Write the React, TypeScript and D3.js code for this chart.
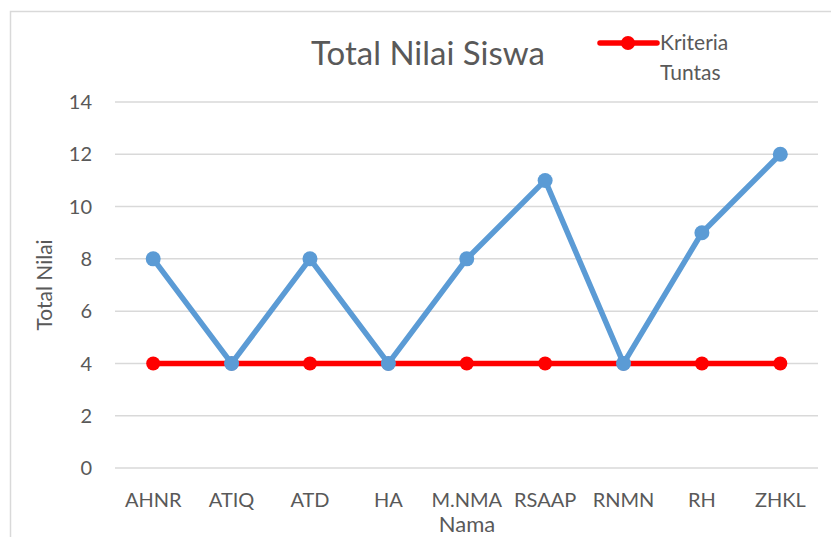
import { useEffect, useRef } from 'react';
import * as d3 from 'd3';

// data
const names = ['AHNR', 'ATIQ', 'ATD', 'HA', 'M.NMA', 'RSAAP', 'RNMN', 'RH', 'ZHKL'];
const totalNilai = [8, 4, 8, 4, 8, 11, 4, 9, 12];
const kriteriaTuntas = [4, 4, 4, 4, 4, 4, 4, 4, 4];
const yTicks = [0, 2, 4, 6, 8, 10, 12, 14];

const W = 831;
const H = 537;
const FONT = 'Lato, "Open Sans", sans-serif';
const TEXT = '#595959';
const GRID = '#D9D9D9';
const BLUE = '#5B9BD5';
const RED = '#FF0000';

function App() {
  const svgRef = useRef<SVGSVGElement | null>(null);

  useEffect(() => {
    const svg = d3.select(svgRef.current);
    svg.selectAll('*').remove();

    // cut-off line of the page text above the chart (only descenders show)
    const top = svg.append('text')
      .attr('y', -5)
      .attr('font-family', '"Liberation Serif", serif')
      .attr('font-size', 24)
      .attr('fill', '#000');
    [['gg', 8], ['p', 126], ['p', 210], ['p', 295], ['g', 335]].forEach(([t, x]) => {
      top.append('tspan').attr('x', x as number).text(t as string);
    });

    // chart frame
    svg.append('rect')
      .attr('x', 10.5).attr('y', 11.5)
      .attr('width', W + 20).attr('height', H + 20)
      .attr('fill', '#fff')
      .attr('stroke', GRID)
      .attr('stroke-width', 1.5);

    const x = d3.scaleBand().domain(names).range([114, 819.5]);
    const y = d3.scaleLinear().domain([0, 14]).range([468, 102]);
    const cx = (i: number) => (x(names[i]) as number) + x.bandwidth() / 2;

    const g = svg.append('g');

    // gridlines
    g.selectAll('.grid')
      .data(yTicks)
      .enter()
      .append('line')
      .attr('x1', 115).attr('x2', 818)
      .attr('y1', d => y(d)).attr('y2', d => y(d))
      .attr('stroke', GRID)
      .attr('stroke-width', 1.5);

    // y tick labels
    g.selectAll('.ytick')
      .data(yTicks)
      .enter()
      .append('text')
      .attr('x', 92)
      .attr('y', d => y(d))
      .attr('dy', '0.36em')
      .attr('text-anchor', 'end')
      .attr('font-family', FONT)
      .attr('font-size', 20)
      .attr('fill', TEXT)
      .text(d => d);

    // category labels
    g.selectAll('.xtick')
      .data(names)
      .enter()
      .append('text')
      .attr('x', (d, i) => cx(i))
      .attr('y', 507)
      .attr('text-anchor', 'middle')
      .attr('font-family', FONT)
      .attr('font-size', 20)
      .attr('fill', TEXT)
      .text(d => d);

    const line = d3.line<number>()
      .x((d, i) => cx(i))
      .y(d => y(d));

    const drawSeries = (vals: number[], color: string, r: number, w: number) => {
      g.append('path')
        .datum(vals)
        .attr('d', line)
        .attr('fill', 'none')
        .attr('stroke', color)
        .attr('stroke-width', w)
        .attr('stroke-linejoin', 'round');
      g.selectAll(null)
        .data(vals)
        .enter()
        .append('circle')
        .attr('cx', (d, i) => cx(i))
        .attr('cy', d => y(d))
        .attr('r', r)
        .attr('fill', color);
    };

    drawSeries(kriteriaTuntas, RED, 7, 5.5);
    drawSeries(totalNilai, BLUE, 7.5, 5.5);

    // title
    svg.append('text')
      .attr('x', 428).attr('y', 65)
      .attr('text-anchor', 'middle')
      .attr('font-family', FONT)
      .attr('font-size', 33)
      .attr('fill', TEXT)
      .text('Total Nilai Siswa');

    // axis titles
    svg.append('text')
      .attr('transform', 'translate(52,285) rotate(-90)')
      .attr('text-anchor', 'middle')
      .attr('font-family', FONT)
      .attr('font-size', 21)
      .attr('fill', TEXT)
      .text('Total Nilai');

    svg.append('text')
      .attr('x', 467).attr('y', 532)
      .attr('text-anchor', 'middle')
      .attr('font-family', FONT)
      .attr('font-size', 22)
      .attr('fill', TEXT)
      .text('Nama');

    // legend
    svg.append('line')
      .attr('x1', 600).attr('x2', 657)
      .attr('y1', 43).attr('y2', 43)
      .attr('stroke', RED)
      .attr('stroke-width', 5.5)
      .attr('stroke-linecap', 'round');
    svg.append('circle')
      .attr('cx', 628).attr('cy', 43).attr('r', 7)
      .attr('fill', RED);
    const leg = svg.append('text')
      .attr('font-family', FONT)
      .attr('font-size', 21)
      .attr('fill', TEXT);
    leg.append('tspan').attr('x', 660).attr('y', 50).text('Kriteria');
    leg.append('tspan').attr('x', 660).attr('y', 80).text('Tuntas');
  }, []);

  return (
    <div style={{ position: 'absolute', left: 0, top: 0 }}>
      <svg ref={svgRef} width={W} height={H} style={{ display: 'block' }} />
    </div>
  );
}

export default App;
